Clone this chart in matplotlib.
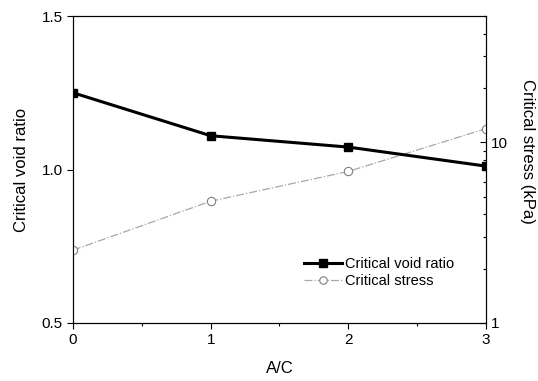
import matplotlib
matplotlib.use("Agg")
from matplotlib import pyplot as plt
from matplotlib.ticker import LogLocator, NullFormatter, FixedLocator, FixedFormatter

plt.rcParams['font.family'] = ['Liberation Sans', 'DejaVu Sans']

# data
ac = [0, 1, 2, 3]
void_ratio = [1.25, 1.11, 1.073, 1.011]
crit_stress = [2.53, 4.72, 6.9, 11.9]

fig = plt.figure(figsize=(5.38, 3.81), dpi=100)
ax = fig.add_axes([73/538, 1 - 323/381, (486-73)/538, (323-16)/381])

l1, = ax.plot(ac, void_ratio, color='black', lw=2.2, marker='s', ms=6,
              zorder=5, label='Critical void ratio')
ax.set_xlim(0, 3)
ax.set_ylim(0.5, 1.5)
ax.set_xticks([0, 1, 2, 3])
ax.set_xticks([0.5, 1.5, 2.5], minor=True)
ax.set_yticks([0.5, 1.0, 1.5])
ax.tick_params(direction='out', labelsize=11, length=4, width=0.8)
ax.tick_params(which='minor', direction='out', length=2.5, width=0.8)
ax.set_xlabel('A/C', fontsize=12, labelpad=10)
ax.set_ylabel('Critical void ratio', fontsize=12, labelpad=9)

ax2 = ax.twinx()
l2, = ax2.plot(ac, crit_stress, color='#a8a8a8', lw=0.9, ls='-.', marker='o', ms=6,
               mfc='white', mec='#808080', mew=0.8, zorder=4,
               label='Critical stress')
ax2.set_yscale('log')
ax2.set_ylim(1, 50)
ax2.yaxis.set_major_locator(FixedLocator([1, 10]))
ax2.yaxis.set_major_formatter(FixedFormatter(['1', '10']))
ax2.yaxis.set_minor_locator(LogLocator(base=10, subs=range(2, 10)))
ax2.yaxis.set_minor_formatter(NullFormatter())
ax2.tick_params(direction='in', labelsize=11, length=4, width=0.8)
ax2.tick_params(which='minor', direction='in', length=2.5, width=0.8)
fig.text(527/538, 1 - 151/381, 'Critical stress (kPa)', fontsize=12,
         rotation=270, ha='center', va='center')

for a in (ax, ax2):
    for s in a.spines.values():
        s.set_linewidth(0.8)

ax.set_zorder(ax2.get_zorder() + 1)
ax.patch.set_visible(False)

ax.legend([l1, l2], ['Critical void ratio', 'Critical stress'], loc='lower right',
          bbox_to_anchor=(0.955, 0.07), frameon=False, fontsize=10.5,
          handlelength=2.6, handletextpad=0.2, labelspacing=0.25, markerscale=0.9)

fig.savefig('out.png', dpi=100)
